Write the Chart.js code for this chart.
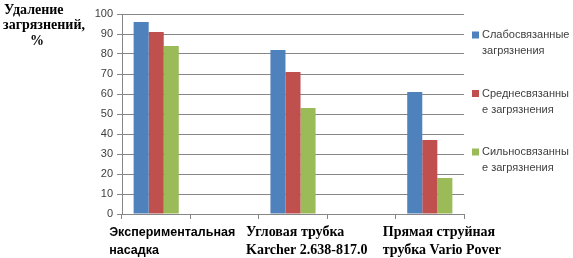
<!DOCTYPE html>
<html>
<head>
<meta charset="utf-8">
<script src="https://cdn.jsdelivr.net/npm/chart.js@4"></script>
<style>
  html, body { margin: 0; padding: 0; background: #fff; }
  #wrap { width: 573px; height: 258px; position: relative; }
</style>
</head>
<body>
<div id="wrap"><canvas id="chart"></canvas></div>
<script>
// categories (empty slots are spacer categories, as in the original sheet)
const categories = [
  ['Экспериментальная', 'насадка'],
  '',
  ['Угловая трубка', 'Karcher 2.638-817.0'],
  '',
  ['Прямая струйная', 'трубка Vario Pover']
];
const seriesNames = [
  ['Слабосвязанные', 'загрязнения'],
  ['Среднесвязанны', 'е загрязнения'],
  ['Сильносвязанны', 'е загрязнения']
];
const weakValues   = [96, null, 82, null, 61];
const mediumValues = [91, null, 71, null, 37];
const strongValues = [84, null, 53, null, 18];
const yTitle = ['Удаление', 'загрязнений,', '%'];
const yTicks = [0, 10, 20, 30, 40, 50, 60, 70, 80, 90, 100];

const colors = ['#4F81BD', '#C0504D', '#9BBB59'];

// y title + wrapped legend, drawn by hand (Excel style)
const sideTextPlugin = {
  id: 'sideText',
  afterDraw(chart) {
    const { ctx, chartArea } = chart;
    ctx.save();
    ctx.font = 'bold 14px "Liberation Serif"';
    ctx.fillStyle = '#000';
    ctx.textAlign = 'left';
    ctx.textBaseline = 'middle';
    const titleX = [4, 3, 30];
    yTitle.forEach((t, i) => ctx.fillText(t, titleX[i], 10 + i * 15.5));

    ctx.font = '11px "Liberation Sans"';
    const x0 = chartArea.right + 8;
    seriesNames.forEach((lines, i) => {
      const y = chartArea.top + 21 + i * 58.5;
      ctx.fillStyle = colors[i];
      ctx.fillRect(x0, y - 3.5, 7, 7);
      ctx.fillStyle = '#404040';
      lines.forEach((ln, j) => ctx.fillText(ln, x0 + 10, y + j * 16));
    });
    ctx.restore();
  }
};

new Chart(document.getElementById('chart'), {
  type: 'bar',
  data: {
    labels: categories,
    datasets: [
      { label: seriesNames[0].join(''), data: weakValues,   backgroundColor: colors[0] },
      { label: seriesNames[1].join(''), data: mediumValues, backgroundColor: colors[1] },
      { label: seriesNames[2].join(''), data: strongValues, backgroundColor: colors[2] }
    ]
  },
  options: {
    responsive: true,
    maintainAspectRatio: false,
    animation: false,
    layout: { padding: { left: 80, right: 109, top: 14, bottom: 0 } },
    datasets: { bar: { categoryPercentage: 0.66, barPercentage: 1.0, skipNull: false } },
    scales: {
      x: {
        afterFit: (s) => { s.height = 44; },
        grid: { display: true, offset: true, drawOnChartArea: false, color: '#868686', tickLength: 5 },
        border: { color: '#868686' },
        ticks: {
          autoSkip: false,
          maxRotation: 0,
          align: 'start',
          labelOffset: -47,
          padding: 5,
          color: '#000',
          font: (c) => c.index === 0
            ? { family: '"Liberation Sans"', size: 12.5, weight: 'bold', lineHeight: 1.42 }
            : { family: '"Liberation Serif"', size: 14, weight: 'bold', lineHeight: 1.27 }
        }
      },
      y: {
        min: 0,
        max: 100,
        afterFit: (s) => { s.width = 42; },
        afterBuildTicks: (s) => { s.ticks = yTicks.map(v => ({ value: v })); },
        grid: { color: '#868686', tickLength: 5 },
        border: { color: '#868686' },
        ticks: {
          padding: 4,
          color: '#404040',
          font: { family: '"Liberation Sans"', size: 11 }
        }
      }
    },
    plugins: {
      legend: { display: false },
      tooltip: { enabled: false }
    }
  },
  plugins: [sideTextPlugin]
});
</script>
</body>
</html>
